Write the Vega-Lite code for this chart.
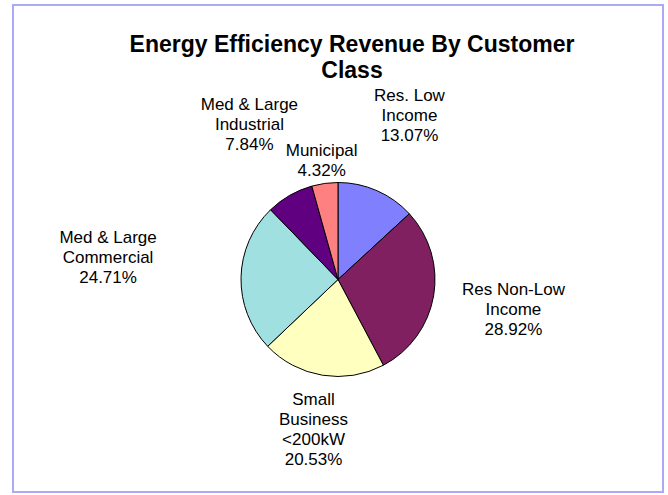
{
  "$schema": "https://vega.github.io/schema/vega-lite/v6.json",
  "width": 650,
  "height": 487,
  "padding": {"left": 13, "top": 5, "right": 5, "bottom": 3},
  "autosize": {"type": "none"},
  "background": "white",
  "view": {"stroke": "#AAAAF8", "strokeWidth": 2, "fill": "white"},
  "config": {
    "view": {"stroke": "#AAAAF8", "strokeWidth": 2},
    "font": "Liberation Sans"
  },
  "title": {
    "text": ["Energy Efficiency Revenue By Customer", "Class"],
    "fontSize": 23,
    "fontWeight": "bold",
    "font": "Liberation Sans",
    "color": "black",
    "lineHeight": 26,
    "anchor": "middle",
    "baseline": "top",
    "offset": -78,
    "dx": 14
  },
  "data": {
    "values": [
      {"rank": 1, "class": "Res. Low Income", "share": 13.07, "label": "Res. Low\nIncome\n13.07%"},
      {"rank": 2, "class": "Res Non-Low Income", "share": 28.92, "label": "Res Non-Low\nIncome\n28.92%"},
      {"rank": 3, "class": "Small Business <200kW", "share": 20.53, "label": "Small\nBusiness\n<200kW\n20.53%"},
      {"rank": 4, "class": "Med & Large Commercial", "share": 24.71, "label": "Med & Large\nCommercial\n24.71%"},
      {"rank": 5, "class": "Med & Large Industrial", "share": 7.84, "label": "Med & Large\nIndustrial\n7.84%"},
      {"rank": 6, "class": "Municipal", "share": 4.32, "label": "Municipal\n4.32%"}
    ]
  },
  "encoding": {
    "theta": {"field": "share", "type": "quantitative", "stack": true},
    "order": {"field": "rank", "type": "quantitative"}
  },
  "layer": [
    {
      "mark": {"type": "arc", "outerRadius": 97, "stroke": "black", "strokeWidth": 1, "yOffset": 31},
      "encoding": {
        "color": {
          "field": "class",
          "type": "nominal",
          "scale": {
            "domain": ["Res. Low Income", "Res Non-Low Income", "Small Business <200kW", "Med & Large Commercial", "Med & Large Industrial", "Municipal"],
            "range": ["#8080FF", "#802060", "#FFFFC0", "#A0E0E0", "#600080", "#FF8080"]
          },
          "legend": null
        }
      }
    },
    {
      "mark": {"type": "text", "radius": 178, "fontSize": 17, "lineHeight": 20, "lineBreak": "\n", "yOffset": 11, "align": "center", "baseline": "middle", "color": "black", "font": "Liberation Sans"},
      "encoding": {
        "text": {"field": "label", "type": "nominal"},
        "opacity": {"condition": {"test": "datum.rank == 1 || datum.rank == 2 || datum.rank == 5", "value": 1}, "value": 0}
      }
    },
    {
      "mark": {"type": "text", "radius": 152, "fontSize": 17, "lineHeight": 20, "lineBreak": "\n", "yOffset": 1, "align": "center", "baseline": "middle", "color": "black", "font": "Liberation Sans"},
      "encoding": {
        "text": {"field": "label", "type": "nominal"},
        "opacity": {"condition": {"test": "datum.rank == 3", "value": 1}, "value": 0}
      }
    },
    {
      "mark": {"type": "text", "radius": 230, "fontSize": 17, "lineHeight": 20, "lineBreak": "\n", "yOffset": -6, "align": "center", "baseline": "middle", "color": "black", "font": "Liberation Sans"},
      "encoding": {
        "text": {"field": "label", "type": "nominal"},
        "opacity": {"condition": {"test": "datum.rank == 4", "value": 1}, "value": 0}
      }
    },
    {
      "mark": {"type": "text", "radius": 120, "fontSize": 17, "lineHeight": 20, "lineBreak": "\n", "yOffset": 21, "align": "center", "baseline": "middle", "color": "black", "font": "Liberation Sans"},
      "encoding": {
        "text": {"field": "label", "type": "nominal"},
        "opacity": {"condition": {"test": "datum.rank == 6", "value": 1}, "value": 0}
      }
    }
  ]
}
